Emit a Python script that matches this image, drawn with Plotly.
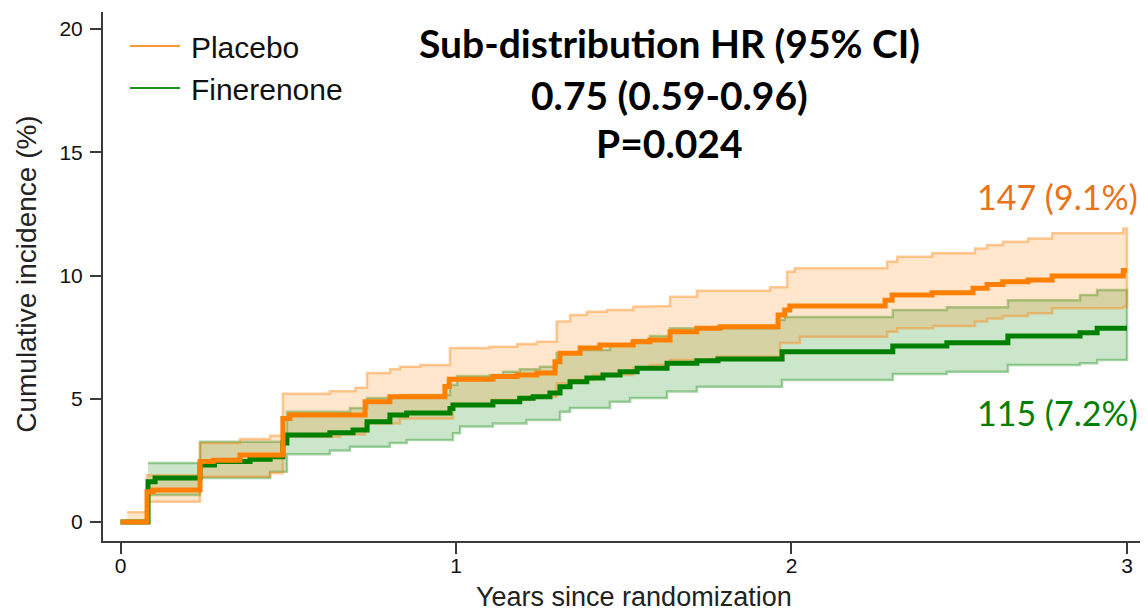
import plotly.graph_objects as go

# ---------------- data ----------------
placebo_t = [0, 0.079, 0.097, 0.237, 0.276, 0.356, 0.484, 0.505, 0.729, 0.803, 0.967, 0.98,
             1.11, 1.182, 1.241, 1.295, 1.31, 1.37, 1.429, 1.528, 1.578, 1.638, 1.718, 1.787,
             1.96, 1.98, 1.995, 2.279, 2.3, 2.419, 2.541, 2.583, 2.63, 2.705, 2.777, 2.989, 3.0]
placebo_cif = [0, 1.23, 1.3, 2.45, 2.5, 2.72, 4.2, 4.34, 4.88, 5.08, 5.5, 5.79,
               5.9, 5.96, 6.04, 6.5, 6.85, 7.06, 7.18, 7.31, 7.38, 7.72, 7.86, 7.92,
               8.4, 8.6, 8.76, 9.0, 9.21, 9.3, 9.48, 9.64, 9.75, 9.82, 9.98, 10.2, 10.2]

placebo_hi_t = [0.02, 0.079, 0.237, 0.356, 0.446, 0.484, 0.624, 0.7, 0.735, 0.803, 0.833, 0.893,
                0.982, 1.1, 1.182, 1.241, 1.3, 1.34, 1.39, 1.45, 1.528, 1.578, 1.638, 1.718,
                1.936, 1.987, 2.01, 2.285, 2.315, 2.419, 2.547, 2.583, 2.63, 2.705, 2.777, 2.989, 3.0]
placebo_hi = [0.4, 1.9, 3.2, 3.37, 3.5, 5.2, 5.3, 5.45, 6.04, 6.2, 6.3, 6.37,
              7.06, 7.11, 7.22, 7.31, 8.13, 8.4, 8.53, 8.6, 8.73, 8.76, 9.14, 9.38,
              9.52, 10.15, 10.29, 10.56, 10.76, 10.9, 11.1, 11.24, 11.37, 11.5, 11.71, 11.91, 11.91]

placebo_lo_t = [0.02, 0.079, 0.237, 0.446, 0.484, 0.655, 0.729, 0.833, 0.991, 1.11, 1.22, 1.3,
                1.34, 1.41, 1.528, 1.578, 1.638, 1.778, 1.966, 2.025, 2.285, 2.315, 2.422, 2.547,
                2.583, 2.63, 2.705, 2.777, 2.989, 3.0]
placebo_lo = [0, 0.82, 1.84, 1.98, 3.46, 3.55, 4.0, 4.2, 4.79, 4.95, 5.08, 5.63,
              5.76, 5.96, 6.24, 6.37, 6.57, 6.7, 7.26, 7.52, 7.72, 7.86, 7.95, 8.13,
              8.26, 8.36, 8.47, 8.67, 8.73, 8.73]

finer_t = [0, 0.082, 0.103, 0.237, 0.28, 0.386, 0.446, 0.484, 0.496, 0.624, 0.693, 0.735,
           0.803, 0.853, 0.982, 0.991, 1.11, 1.19, 1.23, 1.28, 1.31, 1.34, 1.39, 1.438,
           1.489, 1.54, 1.629, 1.718, 1.781, 1.972, 2.302, 2.463, 2.645, 2.86, 2.911, 3.0]
finer_cif = [0, 1.63, 1.78, 2.31, 2.45, 2.55, 2.65, 3.2, 3.53, 3.62, 3.73, 4.07,
             4.34, 4.42, 4.6, 4.75, 4.88, 5.02, 5.08, 5.23, 5.49, 5.69, 5.84, 5.96,
             6.1, 6.24, 6.44, 6.54, 6.61, 6.91, 7.14, 7.27, 7.55, 7.68, 7.86, 7.86]

finer_hi_t = [0.082, 0.237, 0.484, 0.496, 0.684, 0.735, 0.833, 0.982, 1.003, 1.1, 1.14, 1.19,
              1.25, 1.3, 1.37, 1.459, 1.528, 1.578, 1.638, 1.957, 1.98, 2.302, 2.463, 2.645,
              2.86, 2.911, 3.0]
finer_hi = [2.39, 3.26, 3.46, 4.47, 4.62, 5.03, 5.15, 5.56, 5.92, 5.96, 6.1, 6.2,
            6.3, 6.85, 6.98, 7.2, 7.38, 7.55, 7.86, 8.19, 8.32, 8.6, 8.71, 9.0,
            9.21, 9.41, 9.41]

finer_lo_t = [0.082, 0.237, 0.446, 0.496, 0.624, 0.684, 0.803, 0.853, 0.991, 1.012, 1.11, 1.21,
              1.31, 1.34, 1.459, 1.519, 1.629, 1.718, 1.972, 2.302, 2.463, 2.645, 2.86, 2.911, 3.0]
finer_lo = [1.1, 1.78, 2.04, 2.75, 2.9, 3.05, 3.2, 3.33, 3.6, 3.87, 4.0, 4.14,
            4.47, 4.62, 4.88, 5.03, 5.29, 5.49, 5.76, 6.0, 6.1, 6.37, 6.44, 6.57, 6.57]

x_ticks = [0, 1, 2, 3]
y_ticks = [0, 5, 10, 15, 20]
series_names = ["Placebo", "Finerenone"]
end_labels = ["147 (9.1%)", "115 (7.2%)"]
hr_lines = ["Sub-distribution HR (95% CI)", "0.75 (0.59-0.96)", "P=0.024"]

# ---------------- styling ----------------
ORANGE = "#FF8000"
GREEN = "#008000"
AX = "#3a3a3a"
ARIAL = "Liberation Sans, Arial, sans-serif"
CALIBRI = "Lato, Carlito, Calibri, sans-serif"


def steps(t, y):
    xs, ys = [], []
    for i in range(len(t)):
        if i > 0:
            xs.append(t[i]); ys.append(y[i - 1])
        xs.append(t[i]); ys.append(y[i])
    return xs, ys


def band(t_hi, hi, t_lo, lo):
    ux, uy = steps(t_hi, hi)
    lx, ly = steps(t_lo, lo)
    return ux + lx[::-1], uy + ly[::-1]


fig = go.Figure()

# confidence bands
for (th, h, tl, l, fillc, linec) in [
    (finer_hi_t, finer_hi, finer_lo_t, finer_lo, "rgba(0,128,0,0.2)", "rgba(0,128,0,0.35)"),
    (placebo_hi_t, placebo_hi, placebo_lo_t, placebo_lo, "rgba(255,128,0,0.2)", "rgba(255,128,0,0.4)"),
]:
    bx, by = band(th, h, tl, l)
    fig.add_trace(go.Scatter(x=bx, y=by, mode="lines", fill="toself", fillcolor=fillc,
                             line=dict(color=linec, width=2.5), hoverinfo="skip",
                             showlegend=False))

# main cumulative incidence curves
fig.add_trace(go.Scatter(x=finer_t, y=finer_cif, mode="lines", line_shape="hv",
                         line=dict(color=GREEN, width=5), showlegend=False))
fig.add_trace(go.Scatter(x=placebo_t, y=placebo_cif, mode="lines", line_shape="hv",
                         line=dict(color=ORANGE, width=5), showlegend=False))

# legend entries (thin line samples as in the reference)
for name, col in zip(series_names, ["#FF9933", "#1a941a"]):
    fig.add_trace(go.Scatter(x=[None], y=[None], mode="lines", name="\u2009" + name,
                             line=dict(color=col, width=2)))

# layout geometry (page body adds an 8px offset): plot box at 103..1145 x 12..541 px
fig.update_layout(
    width=1140, height=605,
    margin=dict(l=95, r=3, t=4, b=72),
    paper_bgcolor="white", plot_bgcolor="white",
    showlegend=True,
    legend=dict(x=0.021, y=0.985, xanchor="left", yanchor="top",
                font=dict(family=ARIAL, size=30, color="#111"),
                bgcolor="rgba(0,0,0,0)", itemwidth=50, tracegroupgap=0),
    xaxis=dict(range=[-0.0522, 3.0537], tickvals=x_ticks, ticks="outside", ticklen=11,
               tickwidth=1.5, tickcolor=AX, showline=True, linecolor=AX, linewidth=2,
               showgrid=False, zeroline=False, ticklabelstandoff=-6,
               tickfont=dict(family=ARIAL, size=21, color="#111")),
    yaxis=dict(range=[-0.771, 20.69], tickvals=y_ticks, ticks="outside", ticklen=11,
               tickwidth=1.5, tickcolor=AX, showline=True, linecolor=AX, linewidth=2,
               showgrid=False, zeroline=False, ticklabelstandoff=3,
               tickfont=dict(family=ARIAL, size=21, color="#111")),
)

# axis titles
fig.add_annotation(text="Years since randomization", xref="paper", yref="paper",
                   x=0.5093, y=-0.106, xanchor="center", yanchor="middle", showarrow=False,
                   font=dict(family=ARIAL, size=27, color="#222"))
fig.add_annotation(text="Cumulative incidence (%)", xref="paper", yref="paper",
                   x=-0.073, y=0.505, xanchor="center", yanchor="middle", showarrow=False,
                   textangle=-90, font=dict(family=ARIAL, size=28, color="#222"))

# HR text block
for txt, yp in zip(hr_lines, [0.941, 0.8435, 0.752]):
    fig.add_annotation(text="<b>%s</b>" % txt, xref="paper", yref="paper", x=0.5441, y=yp,
                       xanchor="center", yanchor="middle", showarrow=False,
                       font=dict(family=CALIBRI, size=39, color="black"))

# end-of-curve labels
for txt, col, yp in zip(end_labels, ["#E8731A", GREEN], [0.6503, 0.242]):
    fig.add_annotation(text=txt, xref="paper", yref="paper", x=0.9952, y=yp,
                       xanchor="right", yanchor="middle", showarrow=False,
                       font=dict(family=CALIBRI, size=34, color=col))

fig.write_html("out.html")
